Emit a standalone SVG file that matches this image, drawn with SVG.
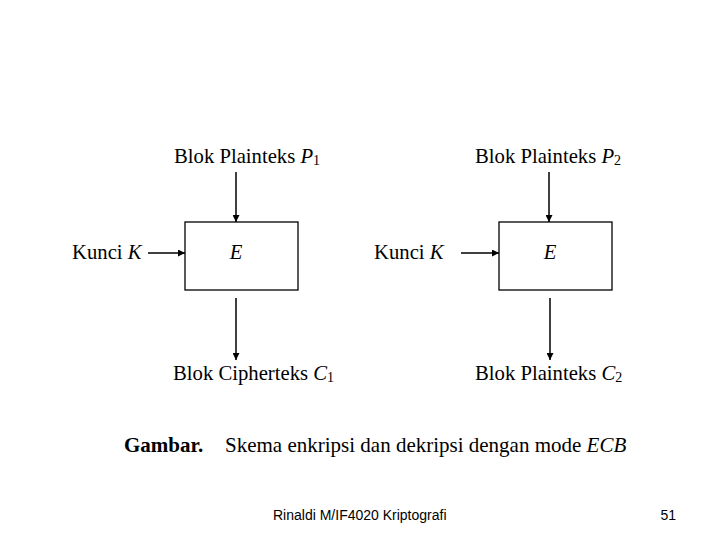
<svg xmlns="http://www.w3.org/2000/svg" width="720" height="540" viewBox="0 0 720 540">
<style>
.t{font-family:"Liberation Serif","Times New Roman",serif;font-size:20.7px;fill:#000}
.c{font-size:21px}
.i{font-style:italic}
.s{font-size:14px}
.b{font-weight:bold}
.f{font-family:"Liberation Sans",Arial,sans-serif;font-size:14px;fill:#000}
.box{fill:#fff;stroke:#000;stroke-width:1.3}
.ln{stroke:#000;stroke-width:1.5;fill:none;marker-end:url(#ah)}
</style>
<defs>
<marker id="ah" viewBox="0 0 10 10" refX="10" refY="5" markerWidth="9" markerHeight="7" markerUnits="userSpaceOnUse" orient="auto">
<path d="M0,0 L10,5 L0,10 z" fill="#000"/>
</marker>
</defs>
<rect width="720" height="540" fill="#fff"/>
<g id="connectors">
<line class="ln" x1="236" y1="172" x2="236" y2="222"/>
<line class="ln" x1="148" y1="253" x2="185" y2="253"/>
<line class="ln" x1="236" y1="298" x2="236" y2="360"/>
<line class="ln" x1="549" y1="172" x2="549" y2="222"/>
<line class="ln" x1="461" y1="253" x2="499" y2="253"/>
<line class="ln" x1="550" y1="298" x2="550" y2="360"/>
</g>
<g id="box1"><rect class="box" x="185" y="222" width="113" height="68"/><text class="t i" x="236" y="259" text-anchor="middle">E</text></g>
<g id="box2"><rect class="box" x="499" y="222" width="113" height="68"/><text class="t i" x="550" y="259" text-anchor="middle">E</text></g>
<g id="p1"><text class="t" x="174" y="163">Blok Plainteks <tspan class="i">P</tspan><tspan class="s" dy="2">1</tspan></text></g>
<g id="p2"><text class="t" x="475" y="163">Blok Plainteks <tspan class="i">P</tspan><tspan class="s" dy="2">2</tspan></text></g>
<g id="k1"><text class="t" x="72" y="259">Kunci <tspan class="i">K</tspan></text></g>
<g id="k2"><text class="t" x="374" y="259">Kunci <tspan class="i">K</tspan></text></g>
<g id="c1"><text class="t" x="173" y="380">Blok Cipherteks <tspan class="i">C</tspan><tspan class="s" dy="2">1</tspan></text></g>
<g id="c2"><text class="t" x="475" y="380">Blok Plainteks <tspan class="i">C</tspan><tspan class="s" dy="2">2</tspan></text></g>
<g id="caption"><text class="t c b" x="124" y="452">Gambar.</text><text class="t c" x="225" y="452">Skema enkripsi dan dekripsi dengan mode <tspan class="i">ECB</tspan></text></g>
<g id="footer"><text class="f" x="273" y="520">Rinaldi M/IF4020 Kriptografi</text><text class="f" x="676" y="520" text-anchor="end">51</text></g>
</svg>
